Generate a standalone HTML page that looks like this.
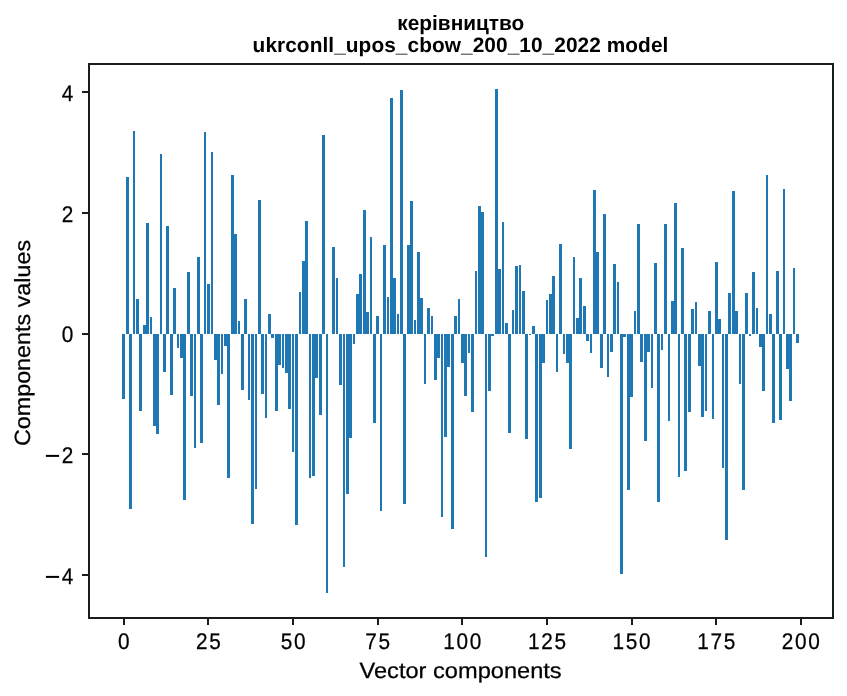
<!DOCTYPE html>
<html><head><meta charset="utf-8"><title>chart</title>
<style>
html,body{margin:0;padding:0;background:#fff;overflow:hidden;}
svg{display:block;will-change:transform;}
text{font-family:"Liberation Sans",sans-serif;fill:#000;text-rendering:geometricPrecision;}
.r{stroke:#000;stroke-width:0.25px;}
</style></head><body>
<svg width="847" height="696" viewBox="0 0 847 696">
<rect width="847" height="696" fill="#fff"/>
<g fill="#1f77b4" shape-rendering="crispEdges"><rect x="122" y="334" width="3" height="65"/><rect x="126" y="177" width="3" height="157"/><rect x="129" y="334" width="3" height="175"/><rect x="133" y="131" width="2" height="203"/><rect x="136" y="299" width="3" height="35"/><rect x="139" y="334" width="3" height="77"/><rect x="143" y="325" width="3" height="9"/><rect x="146" y="223" width="3" height="111"/><rect x="150" y="317" width="2" height="17"/><rect x="153" y="334" width="3" height="92"/><rect x="156" y="334" width="3" height="100"/><rect x="160" y="154" width="2" height="180"/><rect x="163" y="334" width="3" height="38"/><rect x="166" y="226" width="3" height="108"/><rect x="170" y="334" width="3" height="61"/><rect x="173" y="288" width="3" height="46"/><rect x="177" y="334" width="2" height="14"/><rect x="180" y="334" width="3" height="24"/><rect x="183" y="334" width="3" height="166"/><rect x="187" y="272" width="3" height="62"/><rect x="190" y="334" width="3" height="62"/><rect x="194" y="334" width="2" height="114"/><rect x="197" y="257" width="3" height="77"/><rect x="200" y="334" width="3" height="109"/><rect x="204" y="132" width="2" height="202"/><rect x="207" y="284" width="3" height="50"/><rect x="211" y="152" width="2" height="182"/><rect x="214" y="334" width="3" height="26"/><rect x="217" y="334" width="3" height="71"/><rect x="221" y="334" width="2" height="40"/><rect x="224" y="334" width="3" height="12"/><rect x="227" y="334" width="3" height="144"/><rect x="231" y="175" width="3" height="159"/><rect x="234" y="234" width="3" height="100"/><rect x="238" y="321" width="2" height="13"/><rect x="241" y="334" width="3" height="56"/><rect x="244" y="299" width="3" height="35"/><rect x="248" y="334" width="2" height="66"/><rect x="251" y="334" width="3" height="190"/><rect x="255" y="334" width="2" height="155"/><rect x="258" y="200" width="3" height="134"/><rect x="261" y="334" width="3" height="60"/><rect x="265" y="334" width="2" height="84"/><rect x="268" y="314" width="3" height="20"/><rect x="271" y="334" width="3" height="4"/><rect x="275" y="334" width="3" height="77"/><rect x="278" y="334" width="3" height="31"/><rect x="282" y="334" width="2" height="34"/><rect x="285" y="334" width="3" height="39"/><rect x="288" y="334" width="3" height="75"/><rect x="292" y="334" width="2" height="118"/><rect x="295" y="334" width="3" height="191"/><rect x="299" y="292" width="2" height="42"/><rect x="302" y="261" width="3" height="73"/><rect x="305" y="221" width="3" height="113"/><rect x="309" y="334" width="2" height="144"/><rect x="312" y="334" width="3" height="142"/><rect x="315" y="334" width="3" height="44"/><rect x="319" y="334" width="3" height="81"/><rect x="322" y="135" width="3" height="199"/><rect x="326" y="334" width="2" height="259"/><rect x="332" y="247" width="3" height="87"/><rect x="336" y="278" width="2" height="56"/><rect x="339" y="334" width="3" height="51"/><rect x="343" y="334" width="2" height="233"/><rect x="346" y="334" width="3" height="160"/><rect x="349" y="334" width="3" height="104"/><rect x="353" y="334" width="2" height="10"/><rect x="356" y="294" width="3" height="40"/><rect x="359" y="274" width="3" height="60"/><rect x="363" y="210" width="3" height="124"/><rect x="366" y="312" width="3" height="22"/><rect x="370" y="237" width="2" height="97"/><rect x="373" y="334" width="3" height="89"/><rect x="376" y="316" width="3" height="18"/><rect x="380" y="334" width="2" height="177"/><rect x="383" y="245" width="3" height="89"/><rect x="387" y="297" width="2" height="37"/><rect x="390" y="98" width="3" height="236"/><rect x="393" y="278" width="3" height="56"/><rect x="397" y="314" width="2" height="20"/><rect x="400" y="90" width="3" height="244"/><rect x="403" y="334" width="3" height="170"/><rect x="407" y="245" width="3" height="89"/><rect x="410" y="201" width="3" height="133"/><rect x="414" y="320" width="2" height="14"/><rect x="417" y="252" width="3" height="82"/><rect x="420" y="298" width="3" height="36"/><rect x="424" y="334" width="2" height="50"/><rect x="427" y="308" width="3" height="26"/><rect x="431" y="316" width="2" height="18"/><rect x="434" y="334" width="3" height="46"/><rect x="437" y="334" width="3" height="24"/><rect x="441" y="334" width="2" height="183"/><rect x="444" y="334" width="3" height="103"/><rect x="447" y="334" width="3" height="33"/><rect x="451" y="334" width="3" height="195"/><rect x="454" y="316" width="3" height="18"/><rect x="458" y="299" width="2" height="35"/><rect x="461" y="334" width="3" height="29"/><rect x="464" y="334" width="3" height="62"/><rect x="468" y="334" width="2" height="19"/><rect x="471" y="334" width="3" height="78"/><rect x="475" y="271" width="2" height="63"/><rect x="478" y="206" width="3" height="128"/><rect x="481" y="212" width="3" height="122"/><rect x="485" y="334" width="2" height="223"/><rect x="488" y="334" width="3" height="57"/><rect x="491" y="334" width="3" height="2"/><rect x="495" y="89" width="3" height="245"/><rect x="498" y="269" width="3" height="65"/><rect x="502" y="222" width="2" height="112"/><rect x="505" y="323" width="3" height="11"/><rect x="508" y="334" width="3" height="99"/><rect x="512" y="310" width="2" height="24"/><rect x="515" y="266" width="3" height="68"/><rect x="519" y="265" width="2" height="69"/><rect x="522" y="291" width="3" height="43"/><rect x="525" y="334" width="3" height="105"/><rect x="529" y="334" width="2" height="1"/><rect x="532" y="326" width="3" height="8"/><rect x="535" y="334" width="3" height="168"/><rect x="539" y="334" width="3" height="164"/><rect x="542" y="334" width="3" height="29"/><rect x="546" y="300" width="2" height="34"/><rect x="549" y="294" width="3" height="40"/><rect x="552" y="276" width="3" height="58"/><rect x="556" y="334" width="2" height="38"/><rect x="559" y="244" width="3" height="90"/><rect x="563" y="334" width="2" height="20"/><rect x="566" y="334" width="3" height="29"/><rect x="569" y="334" width="3" height="115"/><rect x="573" y="257" width="2" height="77"/><rect x="576" y="318" width="3" height="16"/><rect x="579" y="278" width="3" height="56"/><rect x="583" y="306" width="3" height="28"/><rect x="586" y="334" width="3" height="7"/><rect x="590" y="334" width="2" height="19"/><rect x="593" y="190" width="3" height="144"/><rect x="596" y="252" width="3" height="82"/><rect x="600" y="334" width="3" height="34"/><rect x="603" y="214" width="3" height="120"/><rect x="607" y="334" width="2" height="43"/><rect x="610" y="334" width="3" height="18"/><rect x="613" y="264" width="3" height="70"/><rect x="617" y="282" width="2" height="52"/><rect x="620" y="334" width="3" height="240"/><rect x="623" y="334" width="3" height="3"/><rect x="627" y="334" width="3" height="156"/><rect x="630" y="334" width="3" height="63"/><rect x="634" y="311" width="2" height="23"/><rect x="637" y="224" width="3" height="110"/><rect x="640" y="334" width="3" height="28"/><rect x="644" y="334" width="3" height="107"/><rect x="647" y="334" width="3" height="18"/><rect x="651" y="334" width="2" height="54"/><rect x="654" y="263" width="3" height="71"/><rect x="657" y="334" width="3" height="168"/><rect x="661" y="334" width="2" height="16"/><rect x="664" y="224" width="3" height="110"/><rect x="668" y="334" width="2" height="87"/><rect x="671" y="301" width="3" height="33"/><rect x="674" y="203" width="3" height="131"/><rect x="678" y="334" width="2" height="143"/><rect x="681" y="248" width="3" height="86"/><rect x="684" y="334" width="3" height="137"/><rect x="688" y="334" width="3" height="78"/><rect x="691" y="309" width="3" height="25"/><rect x="695" y="302" width="2" height="32"/><rect x="698" y="334" width="3" height="32"/><rect x="701" y="334" width="3" height="83"/><rect x="705" y="334" width="2" height="77"/><rect x="708" y="311" width="3" height="23"/><rect x="712" y="334" width="2" height="85"/><rect x="715" y="262" width="3" height="72"/><rect x="718" y="319" width="3" height="15"/><rect x="722" y="334" width="2" height="134"/><rect x="725" y="334" width="3" height="206"/><rect x="728" y="293" width="3" height="41"/><rect x="732" y="191" width="3" height="143"/><rect x="735" y="311" width="3" height="23"/><rect x="739" y="334" width="2" height="50"/><rect x="742" y="334" width="3" height="156"/><rect x="745" y="293" width="3" height="41"/><rect x="749" y="334" width="2" height="2"/><rect x="752" y="272" width="3" height="62"/><rect x="756" y="308" width="2" height="26"/><rect x="759" y="334" width="3" height="13"/><rect x="762" y="334" width="3" height="57"/><rect x="766" y="175" width="2" height="159"/><rect x="769" y="314" width="3" height="20"/><rect x="772" y="334" width="3" height="89"/><rect x="776" y="271" width="3" height="63"/><rect x="779" y="334" width="3" height="86"/><rect x="783" y="189" width="2" height="145"/><rect x="786" y="334" width="3" height="35"/><rect x="789" y="334" width="3" height="67"/><rect x="793" y="268" width="2" height="66"/><rect x="796" y="334" width="3" height="9"/></g>
<g fill="#1c1c1c" shape-rendering="crispEdges"><rect x="88" y="63" width="2" height="556"/><rect x="832" y="63" width="2" height="556"/><rect x="88" y="63" width="746" height="2"/><rect x="88" y="617" width="746" height="2"/><rect x="82" y="91" width="7" height="2"/><rect x="82" y="212" width="7" height="2"/><rect x="82" y="333" width="7" height="2"/><rect x="82" y="453" width="7" height="2"/><rect x="82" y="574" width="7" height="2"/><rect x="123" y="618" width="2" height="7"/><rect x="207" y="618" width="2" height="7"/><rect x="292" y="618" width="2" height="7"/><rect x="377" y="618" width="2" height="7"/><rect x="461" y="618" width="2" height="7"/><rect x="546" y="618" width="2" height="7"/><rect x="631" y="618" width="2" height="7"/><rect x="715" y="618" width="2" height="7"/><rect x="800" y="618" width="2" height="7"/></g>
<text transform="translate(124.69,648.5) scale(0.92,1)" class="r" font-size="22.6" letter-spacing="1.837" text-anchor="middle">0</text><text transform="translate(209.32,648.5) scale(0.92,1)" class="r" font-size="22.6" letter-spacing="1.837" text-anchor="middle">25</text><text transform="translate(293.95,648.5) scale(0.92,1)" class="r" font-size="22.6" letter-spacing="1.837" text-anchor="middle">50</text><text transform="translate(378.58,648.5) scale(0.92,1)" class="r" font-size="22.6" letter-spacing="1.837" text-anchor="middle">75</text><text transform="translate(463.21,648.5) scale(0.92,1)" class="r" font-size="22.6" letter-spacing="1.837" text-anchor="middle">100</text><text transform="translate(547.84,648.5) scale(0.92,1)" class="r" font-size="22.6" letter-spacing="1.837" text-anchor="middle">125</text><text transform="translate(632.47,648.5) scale(0.92,1)" class="r" font-size="22.6" letter-spacing="1.837" text-anchor="middle">150</text><text transform="translate(717.09,648.5) scale(0.92,1)" class="r" font-size="22.6" letter-spacing="1.837" text-anchor="middle">175</text><text transform="translate(801.72,648.5) scale(0.92,1)" class="r" font-size="22.6" letter-spacing="1.837" text-anchor="middle">200</text><text transform="translate(74.99,100.9) scale(0.92,1)" class="r" font-size="22.6" letter-spacing="1.837" text-anchor="end">4</text><text transform="translate(74.99,221.9) scale(0.92,1)" class="r" font-size="22.6" letter-spacing="1.837" text-anchor="end">2</text><text transform="translate(74.99,341.6) scale(0.92,1)" class="r" font-size="22.6" letter-spacing="1.837" text-anchor="end">0</text><text transform="translate(74.99,463.05) scale(0.92,1)" class="r" font-size="22.6" letter-spacing="1.837" text-anchor="end">2</text><rect x="45.9" y="454.90" width="13.2" height="2" fill="#000"/><text transform="translate(74.99,584.05) scale(0.92,1)" class="r" font-size="22.6" letter-spacing="1.837" text-anchor="end">4</text><rect x="45.9" y="575.90" width="13.2" height="2" fill="#000"/><text id="xl" transform="translate(460.6,678) scale(1.073,1)" class="r" font-size="22.0" text-anchor="middle">Vector components</text><text id="yl" transform="translate(30.2,343) rotate(-90) scale(1.06,1)" class="r" font-size="22.0" text-anchor="middle">Components values</text><text id="t1" x="460.8" y="30.3" font-size="20.83" font-weight="bold" text-anchor="middle">керівництво</text><text id="t2" x="460.5" y="52.1" font-size="20.83" letter-spacing="0.07" font-weight="bold" text-anchor="middle">ukrconll_upos_cbow_200_10_2022 model</text>
</svg>
</body></html>
